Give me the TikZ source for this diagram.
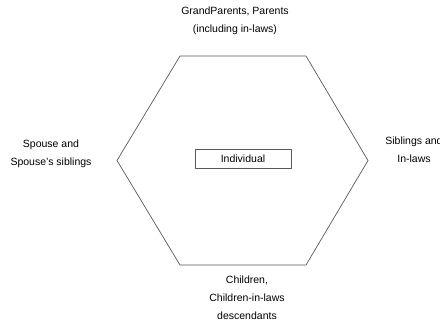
\documentclass[tikz,border=0pt]{standalone}
\usepackage{fontspec}
\setmainfont{Liberation Sans}
\begin{document}
\begin{tikzpicture}[x=1pt,y=-1pt,line join=round,font=\fontsize{10.5}{18}\selectfont,
	lbl/.style={align=center,inner sep=0pt}]
	\useasboundingbox (0,0) rectangle (440,320);
	\path (180,56) coordinate (TL)
	(306,56) coordinate (TR)
	(368,160.5) coordinate (R)
	(306,265) coordinate (BR)
	(180,265) coordinate (BL)
	(117,160.5) coordinate (L);
	\draw[gray!70!black,line width=0.7pt] (TL)--(TR)--(R)--(BR)--(BL)--(L)--cycle;
	\node[draw=gray!70!black,line width=0.7pt,minimum width=96pt,minimum height=19pt,inner sep=0pt] (individual) at (243,158.5) {Individual};
	\node[lbl] (parents) at (235,21) {GrandParents, Parents\\(including in-laws)};
	\node[lbl] (spouse) at (51,153.5) {Spouse and\\Spouse's siblings};
	\node[lbl] (siblings) at (414,149.5) {Siblings and\\In-laws};
	\node[lbl] (children) at (247,297.5) {Children,\\Children-in-laws\\descendants};
\end{tikzpicture}
\end{document}
